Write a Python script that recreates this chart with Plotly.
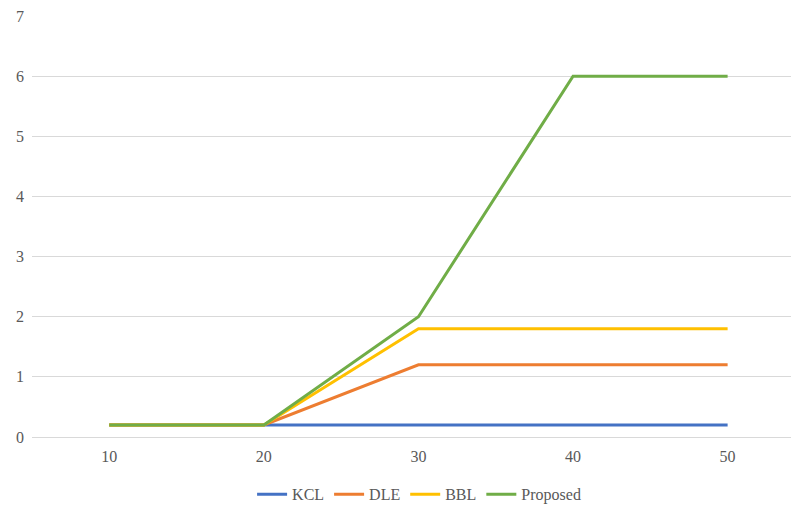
import plotly.graph_objects as go

# Categories along the x axis
x_values = [10, 20, 30, 40, 50]

# Series values
kcl = [0.2, 0.2, 0.2, 0.2, 0.2]
dle = [0.2, 0.2, 1.2, 1.2, 1.2]
bbl = [0.2, 0.2, 1.8, 1.8, 1.8]
proposed = [0.2, 0.2, 2.0, 6.0, 6.0]

series = [
    ("KCL", kcl, "#4472C4"),
    ("DLE", dle, "#ED7D31"),
    ("BBL", bbl, "#FFC000"),
    ("Proposed", proposed, "#70AD47"),
]

fig = go.Figure()
for name, vals, color in series:
    fig.add_trace(go.Scatter(
        x=x_values, y=vals, name=name, mode="lines",
        line=dict(color=color, width=3),
    ))

text_color = "#595959"
font_family = "Liberation Serif, Times New Roman, serif"

fig.update_layout(
    width=791, height=505,
    margin=dict(l=32, r=0, t=16, b=68, autoexpand=False),
    paper_bgcolor="white", plot_bgcolor="white",
    font=dict(family=font_family, size=16, color=text_color),
    showlegend=True,
    legend=dict(
        orientation="h", x=0.51, xanchor="center",
        y=-0.136, yanchor="middle",
        font=dict(family=font_family, size=16, color=text_color),
        itemwidth=30, tracegroupgap=0,
    ),
    xaxis=dict(
        range=[5, 54.1], tickmode="array", tickvals=x_values,
        showgrid=False, zeroline=False, showline=False, ticks="",
        tickfont=dict(family=font_family, size=16, color=text_color),
        ticklabelstandoff=8, automargin=False,
    ),
    yaxis=dict(
        range=[0, 7], dtick=1, showgrid=True, gridcolor="#D9D9D9",
        gridwidth=1, zeroline=True, zerolinecolor="#D9D9D9",
        zerolinewidth=1, showline=False, ticks="",
        tickfont=dict(family=font_family, size=16, color=text_color),
        ticklabelstandoff=7, automargin=False,
    ),
)

fig.write_html("out.html")
